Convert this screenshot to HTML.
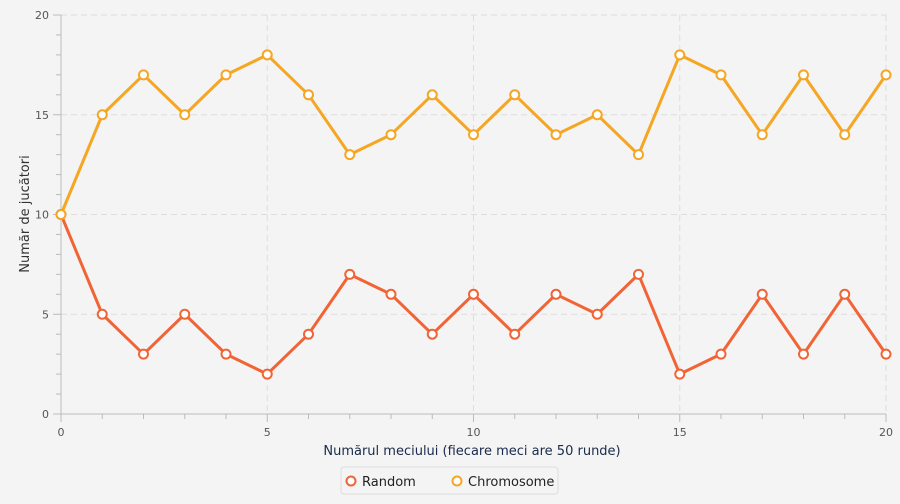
<!DOCTYPE html>
<html><head><meta charset="utf-8"><style>
body{margin:0;background:#f4f4f4;font-family:"DejaVu Sans","Liberation Sans",sans-serif;}
svg text{font-family:"DejaVu Sans","Liberation Sans",sans-serif;}
</style></head><body>
<svg id="chart" width="900" height="500" xmlns="http://www.w3.org/2000/svg">
<rect width="900" height="500" fill="#f4f4f4"/>
<g id="grid"></g><g id="axes"></g><g id="series"></g>
<text x="472" y="455" text-anchor="middle" font-size="13" fill="#1a2a4a">Numărul meciului (fiecare meci are 50 runde)</text>
<text transform="translate(29,214) rotate(-90)" text-anchor="middle" font-size="13" fill="#333">Număr de jucători</text>
<g>
<rect x="341" y="467" width="217" height="27" rx="3" fill="#f4f4f4" stroke="#ddd"/>
<g><circle cx="351" cy="481" r="4.5" fill="#fff" stroke="#f06436" stroke-width="2"/><text x="362" y="486" font-size="13" fill="#222">Random</text></g>
<g><circle cx="457" cy="481" r="4.5" fill="#fff" stroke="#f5a623" stroke-width="2"/><text x="468" y="486" font-size="13" fill="#222">Chromosome</text></g>
</g>
</svg>
<script>
const xValues=[0,1,2,3,4,5,6,7,8,9,10,11,12,13,14,15,16,17,18,19,20];
const randomValues=[10,5,3,5,3,2,4,7,6,4,6,4,6,5,7,2,3,6,3,6,3];
const chromosomeValues=[10,15,17,15,17,18,16,13,14,16,14,16,14,15,13,18,17,14,17,14,17];
const xTicks=[0,5,10,15,20];
const yTicks=[0,5,10,15,20];
const NS="http://www.w3.org/2000/svg";
const X0=61,X1=886,Y0=414,Y1=15;
const sx=v=>X0+(X1-X0)*v/20, sy=v=>Y0-(Y0-Y1)*v/20;
function mk(t,a,p){const e=document.createElementNS(NS,t);for(const k in a)e.setAttribute(k,a[k]);p.appendChild(e);return e;}
const grid=document.getElementById('grid'),axes=document.getElementById('axes'),ser=document.getElementById('series');
xTicks.forEach(v=>{if(v>0){const l=mk('line',{x1:sx(v),x2:sx(v),y1:Y1,y2:Y0,stroke:'#ddd','stroke-dasharray':'6,4'},grid);

}
const t=mk('text',{x:sx(v),y:Y0+22,'text-anchor':'middle','font-size':11,fill:'#555'},axes);t.textContent=v;

});
yTicks.forEach(v=>{if(v>0){const l=mk('line',{x1:X0,x2:X1,y1:sy(v),y2:sy(v),stroke:'#ddd','stroke-dasharray':'6,4'},grid);

}
const t=mk('text',{x:X0-12,y:sy(v)+4,'text-anchor':'end','font-size':11,fill:'#555'},axes);t.textContent=v;

});
for(let i=0;i<=20;i++){const maj=i%5==0;
mk('line',{x1:sx(i),x2:sx(i),y1:Y0,y2:Y0+(maj?8:5),stroke:'#bbb'},axes);
mk('line',{x1:X0-(maj?8:5),x2:X0,y1:sy(i),y2:sy(i),stroke:'#bbb'},axes);}
const xa=mk('line',{x1:X0,x2:X1,y1:Y0,y2:Y0,stroke:'#bbb'},axes);


const ya=mk('line',{x1:X0,x2:X0,y1:Y1,y2:Y0,stroke:'#bbb'},axes);


function draw(vals,color,name){
const p=mk('polyline',{points:vals.map((v,i)=>sx(xValues[i])+','+sy(v)).join(' '),fill:'none',stroke:color,'stroke-width':3,'stroke-linejoin':'round'},ser);


vals.forEach((v,i)=>{const c=mk('circle',{cx:sx(xValues[i]),cy:sy(v),r:4.5,fill:'#fff',stroke:color,'stroke-width':2},ser);

});}
draw(randomValues,'#f06436','random');
draw(chromosomeValues,'#f5a623','chromosome');
</script>
</body></html>
